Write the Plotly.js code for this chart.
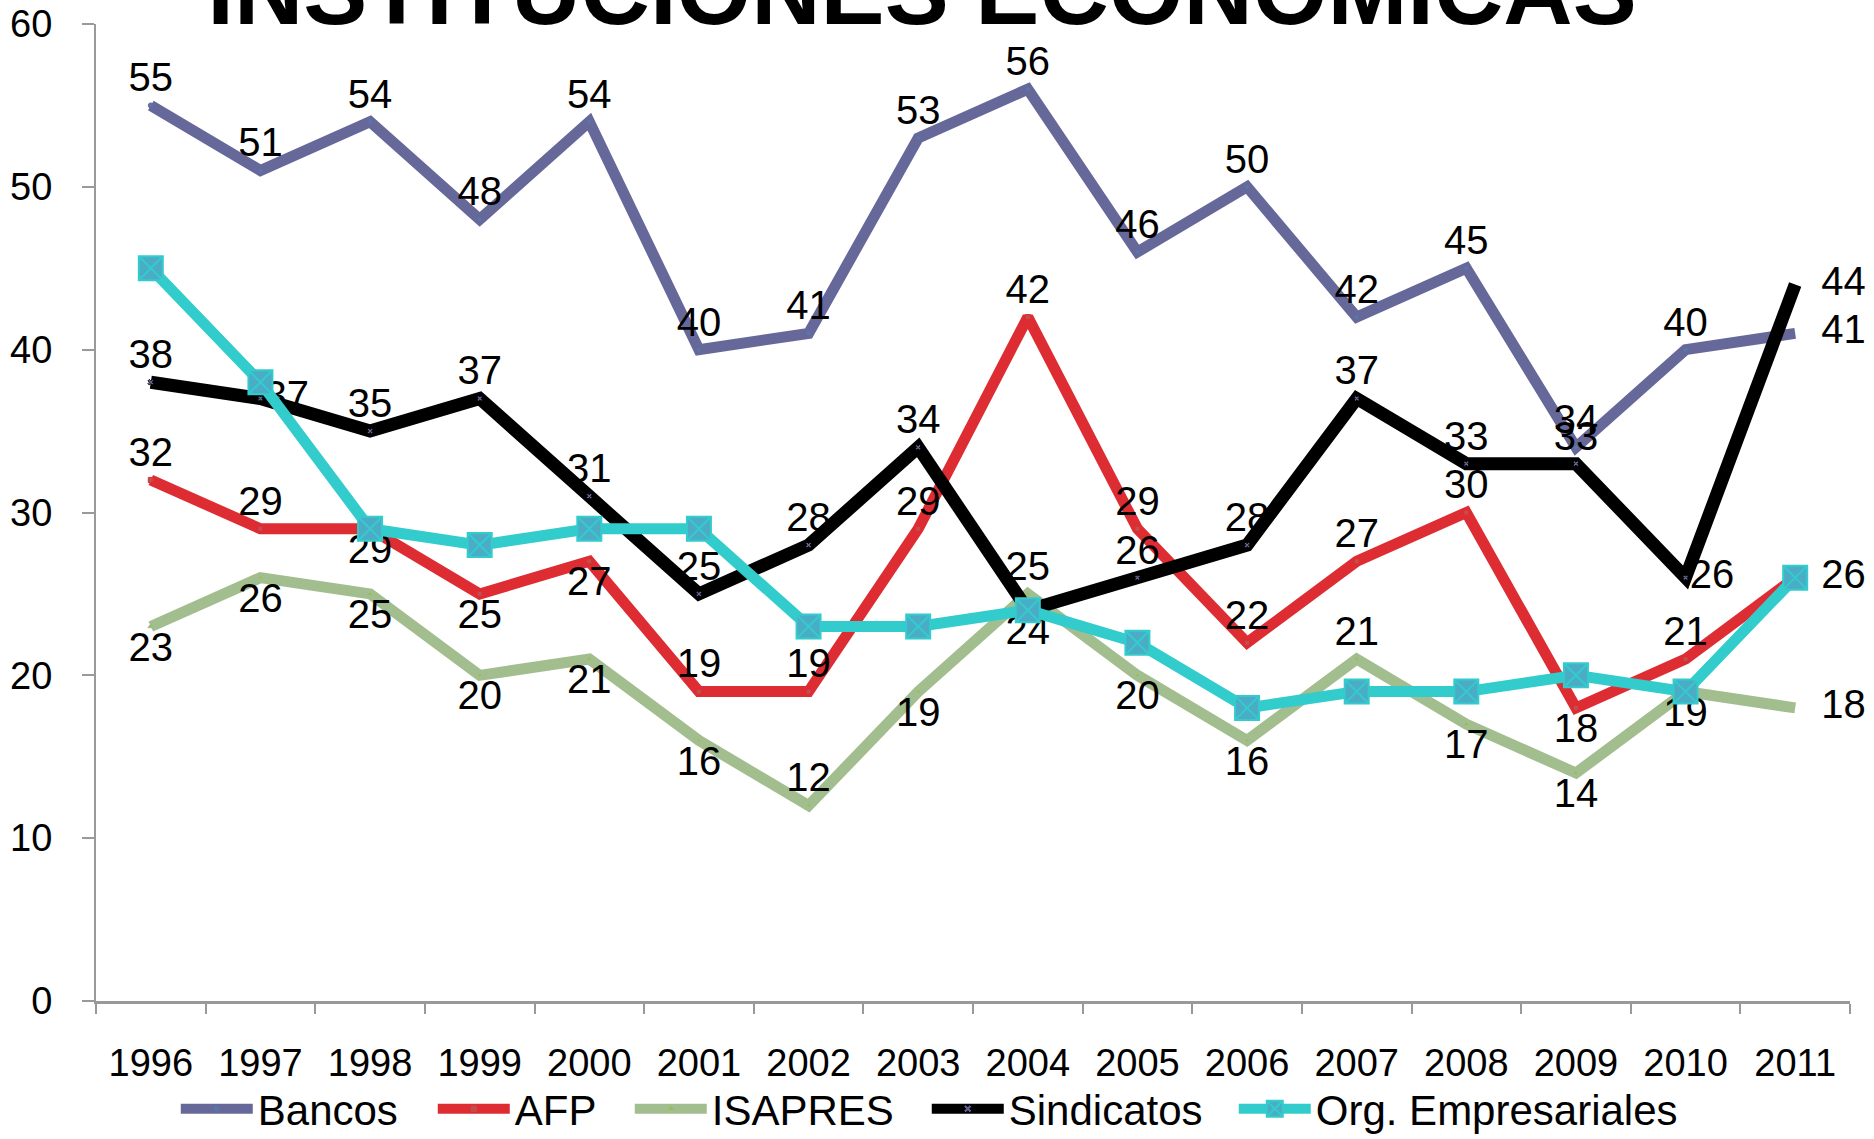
<!DOCTYPE html>
<html>
<head>
<meta charset="utf-8">
<script src="https://cdn.plot.ly/plotly-3.0.1.min.js"></script>
<style>html,body{margin:0;padding:0;background:#fff;}#chart{width:1874px;height:1139px;}</style>
</head>
<body>
<div id="chart"></div>
<script>
const years = ['1996','1997','1998','1999','2000','2001','2002','2003','2004','2005','2006','2007','2008','2009','2010','2011'];
const bancos = [55, 51, 54, 48, 54, 40, 41, 53, 56, 46, 50, 42, 45, 34, 40, 41];
const afp = [32, 29, 29, 25, 27, 19, 19, 29, 42, 29, 22, 27, 30, 18, 21, 26];
const isapres = [23, 26, 25, 20, 21, 16, 12, 19, 25, 20, 16, 21, 17, 14, 19, 18];
const sindicatos = [38, 37, 35, 37, 31, 25, 28, 34, 24, 26, 28, 37, 33, 33, 26, 44];
const orgEmpresariales = [45, 38, 29, 28, 29, 29, 23, 23, 24, 22, 18, 19, 19, 20, 19, 26];
const seriesNames = ['Bancos', 'AFP', 'ISAPRES', 'Sindicatos', 'Org. Empresariales'];
const titleText = 'INSTITUCIONES ECONÓMICAS';

// label placement (style only)
const T = 'top center', B = 'bottom center', R = 'middle right';
const posBancos = [T,T,T,T,T,T,T,T,T,T,T,T,T,T,T,R];
const posAfp = [T,T,B,B,B,T,T,T,T,T,T,T,T,B,T,R];
const posIsapres = [B,B,B,B,B,B,T,B,T,B,B,T,B,B,B,R];
const posSind = [T,R,T,T,T,T,T,T,B,T,T,T,T,T,R,R];

const FONT = 'Liberation Sans, Arial, sans-serif';
const labelFont = {family: FONT, size: 40, color: '#000'};
const lastIdx = years.length - 1;
// the final point's label sits further right: use a larger, invisible marker there
const mSizes = years.map((_, i) => i === lastIdx ? 40 : 5);
const mOpac = years.map((_, i) => i === lastIdx ? 0 : 1);

function lineTrace(name, y, color, width, pos, mcolor, msym, legW) {
  return {
    type: 'scatter', mode: 'lines+markers+text', name: name, legendwidth: legW,
    x: years, y: y,
    text: y.map(String), textposition: pos, textfont: labelFont,
    line: {color: color, width: width},
    marker: {size: mSizes, opacity: mOpac, color: mcolor, symbol: msym},
    cliponaxis: false, hoverinfo: 'x+y'
  };
}

const data = [
  lineTrace(seriesNames[0], bancos, '#67689A', 11, posBancos, '#5577AA', 'circle', 170),
  lineTrace(seriesNames[1], afp, '#DE2C33', 11, posAfp, '#C0504D', 'square', 110),
  lineTrace(seriesNames[2], isapres, '#A2BE8E', 11, posIsapres, '#9BBB59', 'triangle-up', 210),
  lineTrace(seriesNames[3], sindicatos, '#000000', 13, posSind, '#67689A', 'x', 220),
  {
    type: 'scatter', mode: 'lines+markers', name: seriesNames[4], legendwidth: 360,
    x: years, y: orgEmpresariales,
    line: {color: '#33CCCC', width: 11},
    marker: {size: 24, symbol: 'square-x', color: '#4BACC6', line: {color: '#33CCCC', width: 2}},
    cliponaxis: false
  }
];

const layout = {
  width: 1874, height: 1139,
  paper_bgcolor: '#fff', plot_bgcolor: '#fff',
  margin: {l: 96, r: 24, t: 24, b: 138, autoexpand: false},
  font: {family: FONT, color: '#000', size: 40},
  title: {
    text: titleText, font: {family: FONT, size: 96, color: '#000', weight: 'bold'},
    x: 922/1874, xanchor: 'center', xref: 'container', y: 1 - 24/1139, yanchor: 'bottom', yref: 'container'
  },
  showlegend: true,
  legend: {
    orientation: 'h', x: 0.4745, xanchor: 'center', y: -0.1105, yanchor: 'middle',
    font: {family: FONT, size: 42, color: '#000'}, itemwidth: 72,
    bgcolor: 'rgba(0,0,0,0)'
  },
  xaxis: {
    type: 'category', range: [-0.5, 15.5], tickson: 'boundaries',
    showgrid: false, zeroline: false, showline: true, linecolor: '#999', linewidth: 3,
    ticks: 'outside', ticklen: 10, tickcolor: '#999', tickwidth: 2,
    tickfont: {family: FONT, size: 38, color: '#000'}, ticklabelstandoff: 26
  },
  yaxis: {
    range: [0, 60], dtick: 10, showgrid: false, zeroline: false,
    showline: true, linecolor: '#999', linewidth: 2,
    ticks: 'outside', ticklen: 12, tickcolor: '#999', tickwidth: 2,
    tickfont: {family: FONT, size: 38, color: '#000'}, ticklabelstandoff: 22
  }
};

Plotly.newPlot('chart', data, layout, {displayModeBar: false, staticPlot: true});
</script>
</body>
</html>
